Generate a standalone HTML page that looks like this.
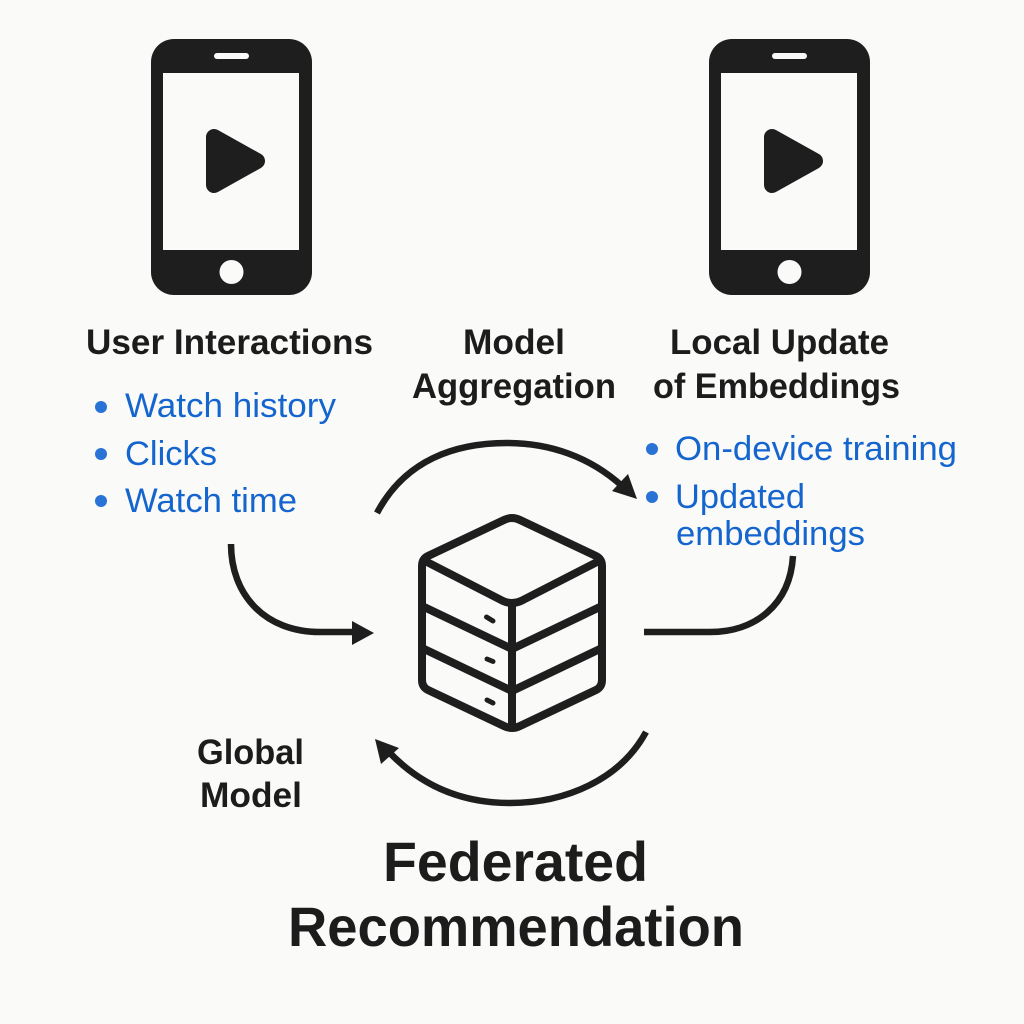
<!DOCTYPE html>
<html><head><meta charset="utf-8"><style>
html,body{margin:0;padding:0;background:#fafaf8}
svg{display:block}
text{font-family:"Liberation Sans",sans-serif}
.h{font-weight:700;font-size:35px;fill:#1c1c1c;stroke:none}
.b{font-size:34px;fill:#1565cf;stroke:none}
.t{font-weight:700;font-size:56px;fill:#1c1c1c;stroke:none}
.l{fill:none;stroke:#1e1e1e;stroke-width:6.500;stroke-linecap:butt}
.s{fill:none;stroke:#1e1e1e;stroke-width:8;stroke-linejoin:round;stroke-linecap:round}
</style></head><body>
<svg width="1024" height="1024" viewBox="0 0 1024 1024" xmlns="http://www.w3.org/2000/svg">
<rect width="1024" height="1024" fill="#fafaf8"/>
<defs>
<g id="phone">
<rect x="151" y="39" width="161" height="256" rx="23" fill="#1e1e1e"/>
<rect x="163" y="73" width="136" height="177" fill="#fafaf8"/>
<rect x="214" y="53" width="35" height="6" rx="3" fill="#fafaf8"/>
<circle cx="231.500" cy="272" r="12" fill="#fafaf8"/>
<path d="M214 137 L257 161 L214 185 Z" fill="#1e1e1e" stroke="#1e1e1e" stroke-width="16" stroke-linejoin="round"/>
</g>
</defs>
<use href="#phone"/>
<use href="#phone" x="558"/>

<text class="h" x="86" y="354" textLength="287" lengthAdjust="spacingAndGlyphs">User Interactions</text>
<text class="h" x="463" y="354" textLength="102" lengthAdjust="spacingAndGlyphs">Model</text>
<text class="h" x="412" y="398" textLength="204" lengthAdjust="spacingAndGlyphs">Aggregation</text>
<text class="h" x="670" y="354" textLength="219" lengthAdjust="spacingAndGlyphs">Local Update</text>
<text class="h" x="653" y="398" textLength="247" lengthAdjust="spacingAndGlyphs">of Embeddings</text>

<circle cx="101" cy="407" r="6" fill="#2a73d6"/>
<circle cx="101" cy="454" r="6" fill="#2a73d6"/>
<circle cx="101" cy="501" r="6" fill="#2a73d6"/>
<text class="b" x="125" y="417" textLength="211" lengthAdjust="spacingAndGlyphs">Watch history</text>
<text class="b" x="125" y="465" textLength="92" lengthAdjust="spacingAndGlyphs">Clicks</text>
<text class="b" x="125" y="512" textLength="172" lengthAdjust="spacingAndGlyphs">Watch time</text>

<circle cx="652" cy="449" r="6" fill="#2a73d6"/>
<circle cx="652" cy="497" r="6" fill="#2a73d6"/>
<text class="b" x="675" y="460" textLength="282" lengthAdjust="spacingAndGlyphs">On-device training</text>
<text class="b" x="675" y="508" textLength="130" lengthAdjust="spacingAndGlyphs">Updated</text>
<text class="b" x="676" y="545" textLength="189" lengthAdjust="spacingAndGlyphs">embeddings</text>

<path class="l" d="M377 513 C405 460 455 443 507 443 C550 443 590 457 622 486"/>
<path d="M637 499 L612 491 L628 474 Z" fill="#1e1e1e"/>
<path class="l" stroke-linecap="round" d="M231 544 C231 595 265 632 320 632 L355 632"/>
<path d="M374 633 L352 621 L352 645 Z" fill="#1e1e1e"/>
<path class="l" d="M793 556 C790 605 755 632 710 632 L644 632"/>
<path class="l" d="M646 732 C620 780 565 803 510 803 C460 803 420 785 388 751"/>
<path d="M375 739 L399 748 L381 764 Z" fill="#1e1e1e"/>

<g class="s">
<path d="M504 520 Q512 516 520 520 L596 556 Q602 559 602 566 L602 680 Q602 687 596 690 L520 726 Q512 730 504 726 L428 690 Q422 687 422 680 L422 566 Q422 559 428 556 Z"/>
<path d="M425 561 L503 601 Q512 605 521 601 L599 561"/>
<path d="M512 605 L512 726"/>
<path d="M422 606 L512 649 L602 606"/>
<path d="M422 648 L512 691 L602 648"/>
</g>
<g stroke="#1e1e1e" stroke-width="5" stroke-linecap="round">
<path d="M486.500 617 L493 621"/>
<path d="M487 659 L493 661.500"/>
<path d="M487 700 L493 703"/>
</g>

<text class="h" x="197" y="764" textLength="107" lengthAdjust="spacingAndGlyphs">Global</text>
<text class="h" x="200" y="807" textLength="102" lengthAdjust="spacingAndGlyphs">Model</text>
<text class="t" x="383" y="881" textLength="265" lengthAdjust="spacingAndGlyphs">Federated</text>
<text class="t" x="288" y="946" textLength="456" lengthAdjust="spacingAndGlyphs">Recommendation</text>
</svg>
</body></html>
